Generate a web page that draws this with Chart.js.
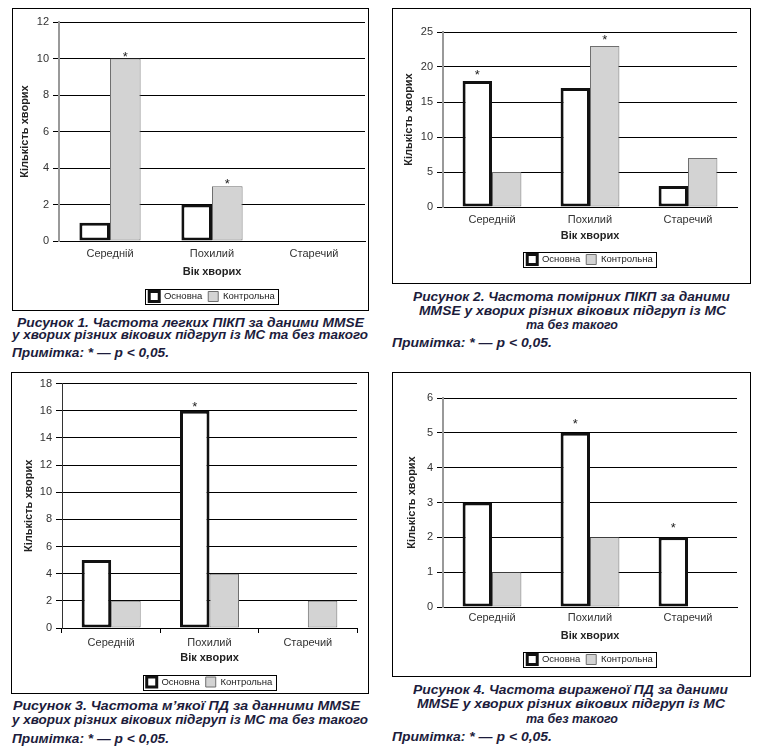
<!DOCTYPE html>
<html><head><meta charset="utf-8">
<script src="https://cdn.jsdelivr.net/npm/chart.js@4"></script>
<style>
html,body{margin:0;padding:0;background:#fff;}
body{width:760px;height:754px;position:relative;overflow:hidden;font-family:"Liberation Sans",Arial,sans-serif;}
.box{position:absolute;border:1px solid #000;box-sizing:border-box;}
canvas.c{position:absolute;}
.cap{position:absolute;white-space:nowrap;font-weight:bold;font-style:italic;font-size:13px;color:#1c1c3c;line-height:13px;transform-origin:0 50%;}
</style></head><body>
<script>
// ---------- DATA ----------
const categories = ['Середній', 'Похилий', 'Старечий'];
const seriesNames = ['Основна', 'Контрольна'];
const xTitle = 'Вік хворих';
const yTitle = 'Кількість хворих';

const fig1Main = [1, 2, 0];
const fig1Ctrl = [10, 3, 0];
const fig1StarMain = [0, 0, 0];
const fig1StarCtrl = [1, 1, 0];
const fig1Ticks = [0, 2, 4, 6, 8, 10, 12];

const fig2Main = [18, 17, 3];
const fig2Ctrl = [5, 23, 7];
const fig2StarMain = [1, 0, 0];
const fig2StarCtrl = [0, 1, 0];
const fig2Ticks = [0, 5, 10, 15, 20, 25];

const fig3Main = [5, 16, 0];
const fig3Ctrl = [2, 4, 2];
const fig3StarMain = [0, 1, 0];
const fig3StarCtrl = [0, 0, 0];
const fig3Ticks = [0, 2, 4, 6, 8, 10, 12, 14, 16, 18];

const fig4Main = [3, 5, 2];
const fig4Ctrl = [1, 2, 0];
const fig4StarMain = [0, 1, 1];
const fig4StarCtrl = [0, 0, 0];
const fig4Ticks = [0, 1, 2, 3, 4, 5, 6];

const fig1Caption = ['Рисунок 1. Частота легких ПІКП за даними MMSE', 'у хворих різних вікових підгруп із МС та без такого'];
const fig2Caption = ['Рисунок 2. Частота помірних ПІКП за даними', 'MMSE у хворих різних вікових підгруп із МС', 'та без такого'];
const fig3Caption = ['Рисунок 3. Частота м’якої ПД за данними MMSE', 'у хворих різних вікових підгруп із МС та без такого'];
const fig4Caption = ['Рисунок 4. Частота вираженої ПД за даними', 'MMSE у хворих різних вікових підгруп із МС', 'та без такого'];
const noteText = 'Примітка: * — p < 0,05.';

// ---------- LAYOUT (page pixel positions) ----------
const layouts = [
  {box:[12,8,357,303], plot:[59,22,365,241], label:254, title:272, legend:296.5, yTitleX:25, star:6, axis:'#999', axisW:2, xTicks:false,
   caps:[[17,364,322],[12,368,334]], note:[12,169,352]},
  {box:[392,8,359,276], plot:[443,32,737,207], label:220, title:236, legend:259.5, yTitleX:409, star:10, axis:'#999', axisW:2, xTicks:false,
   caps:[[413,730,296],[419,726,310],[526,618,324]], note:[392,552,342]},
  {box:[11,372,358,322], plot:[62,382,357,628], label:643, title:658, legend:682, yTitleX:29, star:8, axis:'#333', axisW:1, xTicks:true,
   caps:[[13,360,705],[12,368,719]], note:[12,169,738]},
  {box:[392,372,359,305], plot:[443,398,737,607], label:618, title:636, legend:659.5, yTitleX:412, star:13, axis:'#999', axisW:2, xTicks:false,
   caps:[[413,728,689],[417,725,703],[526,618,718]], note:[392,552,736]}
];

const figures = [
  {main:fig1Main, ctrl:fig1Ctrl, sMain:fig1StarMain, sCtrl:fig1StarCtrl, ticks:fig1Ticks, caption:fig1Caption},
  {main:fig2Main, ctrl:fig2Ctrl, sMain:fig2StarMain, sCtrl:fig2StarCtrl, ticks:fig2Ticks, caption:fig2Caption},
  {main:fig3Main, ctrl:fig3Ctrl, sMain:fig3StarMain, sCtrl:fig3StarCtrl, ticks:fig3Ticks, caption:fig3Caption},
  {main:fig4Main, ctrl:fig4Ctrl, sMain:fig4StarMain, sCtrl:fig4StarCtrl, ticks:fig4Ticks, caption:fig4Caption}
];

const FONT = '"Liberation Sans", Arial, sans-serif';

const starPlugin = {
  id: 'stars',
  afterDatasetsDraw(chart, args, opts) {
    const ctx = chart.ctx;
    ctx.save();
    ctx.font = '13px ' + FONT;
    ctx.fillStyle = '#222';
    ctx.textAlign = 'center';
    ctx.textBaseline = 'alphabetic';
    (opts.marks || []).forEach((arr, di) => {
      const meta = chart.getDatasetMeta(di);
      arr.forEach((v, i) => {
        if (v) {
          const el = meta.data[i];
          ctx.fillText('*', el.x, el.y - opts.offset + 8);
        }
      });
    });
    ctx.restore();
  }
};

const legendBorder = {
  id: 'legendBorder',
  afterDraw(chart) {
    const lg = chart.legend;
    if (!lg || !lg.legendHitBoxes || !lg.legendHitBoxes.length) return;
    const hb = lg.legendHitBoxes;
    const l = Math.min(...hb.map(h => h.left)) - 4;
    const r = Math.max(...hb.map(h => h.left + h.width)) + 3;
    const t = Math.min(...hb.map(h => h.top)) - 2.5;
    const b = Math.max(...hb.map(h => h.top + h.height)) + 2.5;
    const ctx = chart.ctx;
    ctx.save();
    ctx.strokeStyle = '#000';
    ctx.lineWidth = 1;
    ctx.strokeRect(Math.round(l) + 0.5, Math.round(t) + 0.5, Math.round(r - l), Math.round(b - t));
    ctx.restore();
  }
};

layouts.forEach((L, k) => {
  const d = document.createElement('div');
  d.className = 'box';
  d.style.left = L.box[0] + 'px'; d.style.top = L.box[1] + 'px';
  d.style.width = L.box[2] + 'px'; d.style.height = L.box[3] + 'px';
  document.body.appendChild(d);
});

layouts.forEach((L, k) => {
  const F = figures[k];
  const cx = L.box[0] + 1, cy = L.box[1] + 1;
  const W = L.box[2] - 2;
  const legendBottom = L.legend + 15;
  const Hc = Math.max(L.box[3] - 2, Math.ceil(legendBottom - cy));
  const cv = document.createElement('canvas');
  cv.className = 'c';
  cv.width = W; cv.height = Hc;
  cv.style.left = cx + 'px'; cv.style.top = cy + 'px';
  cv.style.width = W + 'px'; cv.style.height = Hc + 'px';
  document.body.appendChild(cv);

  const legPad = 6;
  const Hx = L.legend - 5 - legPad - L.plot[3];
  const titlePadBottom = Hx - (L.title - L.plot[3]) - 6.6;
  const tl = L.xTicks ? 5 : 0;
  const tickPad = (L.label - L.plot[3]) - tl - 6.5;

  new Chart(cv, {
    type: 'bar',
    data: {
      labels: categories,
      datasets: [
        {label: seriesNames[0], data: F.main, backgroundColor: '#ffffff', borderColor: '#111', borderWidth: 3, borderSkipped: false,
         categoryPercentage: 0.6, barPercentage: 1.0},
        {label: seriesNames[1], data: F.ctrl, backgroundColor: '#d3d3d3', borderColor: '#6f6f6f', borderWidth: 1, borderSkipped: false,
         categoryPercentage: 0.6, barPercentage: 1.0}
      ]
    },
    options: {
      responsive: false,
      animation: false,
      events: [],
      layout: {padding: {top: L.plot[1] - cy, right: cx + W - L.plot[2], left: 0, bottom: Math.max(0, cy + Hc - legendBottom)}},
      scales: {
        x: {
          grid: {display: true, drawOnChartArea: false, drawTicks: L.xTicks, tickLength: 5, color: '#000', offset: true},
          border: {display: true, color: '#000', width: 1},
          ticks: {color: '#333', font: {size: 11, family: FONT}, padding: tickPad, maxRotation: 0, autoSkip: false},
          title: {display: true, text: xTitle, color: '#222', font: {size: 11, weight: 'bold', family: FONT}, padding: {top: 0, bottom: titlePadBottom}},
          afterFit: s => { s.height = Hx; }
        },
        y: {
          min: F.ticks[0], max: F.ticks[F.ticks.length - 1],
          afterBuildTicks: s => { s.ticks = F.ticks.map(v => ({value: v})); },
          grid: {color: '#000', lineWidth: 1, drawTicks: true, tickLength: 6},
          border: {display: true, color: L.axis, width: L.axisW},
          ticks: {color: '#333', font: {size: 11, family: FONT}, padding: 4},
          title: {display: true, text: yTitle, color: '#222', font: {size: 11, weight: 'bold', family: FONT}, padding: {top: L.yTitleX - cx - 6.6, bottom: 0}},
          afterFit: s => { s.width = L.plot[0] - cx; }
        }
      },
      plugins: {
        legend: {position: 'bottom', fullSize: false,
          labels: {boxWidth: 10, boxHeight: 10, padding: legPad, color: '#222', font: {size: 9.5, family: FONT}}},
        tooltip: {enabled: false},
        stars: {marks: [F.sMain, F.sCtrl], offset: L.star}
      }
    },
    plugins: [starPlugin, legendBorder]
  });

  // captions
  const addLine = (text, x0, x1, yc) => {
    const s = document.createElement('div');
    s.className = 'cap';
    s.textContent = text;
    s.style.left = x0 + 'px';
    s.style.top = (yc - 6) + 'px';
    document.body.appendChild(s);
    const w = s.getBoundingClientRect().width;
    const sc = (x1 - x0) / w;
    s.style.transform = 'scaleX(' + sc.toFixed(4) + ')';
  };
  F.caption.forEach((t, i) => addLine(t, L.caps[i][0], L.caps[i][1], L.caps[i][2]));
  addLine(noteText, L.note[0], L.note[1], L.note[2]);
});
</script>
</body></html>
